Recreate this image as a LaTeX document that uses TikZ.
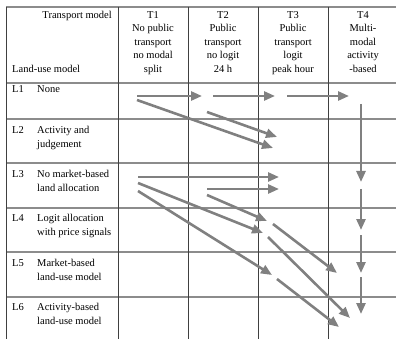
\documentclass[tikz,border=0pt]{standalone}
\usepackage{fontspec}
\setmainfont{Liberation Serif}
\usetikzlibrary{arrows.meta}

\begin{document}
\begin{tikzpicture}[x=1pt,y=-1pt,font=\fontsize{10.5}{13.6}\selectfont,
	hline/.style={draw=black!45,line width=1.2pt},
	vline/.style={draw=black!75,line width=0.6pt},
	flow/.style={color=black!50,line width=2.6pt,-{Triangle[length=11pt,width=9pt]}},
	lbl/.style={anchor=north west,inner sep=0pt,align=left}]
	\useasboundingbox (0,0) rectangle (396,339);
	
	% table rules
	\foreach \y in {7,83,119,163,208,252,297}
		\draw[hline] (6,\y) -- (396,\y);
	\foreach \x in {6,118,188,258,328}
		\draw[vline] (\x,7) -- (\x,339);
	
	% heading
	\node[anchor=north east,inner sep=0pt] (tmodel) at (112,11) {Transport model};
	\node[anchor=base west,inner sep=0pt] (lmodel) at (12,73) {Land-use model};
	\foreach \t [count=\n] in {{T1\\No public\\transport\\no modal\\split},{T2\\Public\\transport\\no logit\\24 h},{T3\\Public\\transport\\logit\\peak hour},{T4\\Multi-\\modal\\activity\\-based}}
		\node[align=center,anchor=north,inner sep=0pt] (T\n) at (83+\n*70,11) {\t};
	
	% land-use rows
	\foreach \t/\y [count=\n] in {None/85,{Activity and\\judgement}/126,{No market-based\\land allocation}/170,{Logit allocation\\with price signals}/214,{Market-based\\land-use model}/259,{Activity-based\\land-use model}/303}
	{
		\node[lbl] (L\n) at (12,\y) {L\n};
		\node[lbl] (D\n) at (37,\y) {\t};
	}
	
	% arrow ends
	\foreach \n/\xa/\ya/\xb/\yb in {1/137/96/202/96,2/213/96/275/96,3/287/96/349/96,
		4/361/104/361/182,5/361/189/361/230,6/361/235/361/273,7/361/277/361/314,
		8/137/100/273/148,9/207/112/277/137,10/138/177/279/177,11/207/189/279/189,
		12/138/183/263/233,13/207/195/267/221,14/138/191/272/275,
		15/273/224/337/273,16/268/237/350/318,17/277/279/339/327}
	{
		\coordinate (s\n) at (\xa,\ya);
		\coordinate (e\n) at (\xb,\yb);
	}
	
	\path[flow]
		(s1) edge (e1)
		(s2) edge (e2)
		(s3) edge (e3)
		(s4) edge (e4)
		(s5) edge (e5)
		(s6) edge (e6)
		(s7) edge (e7)
		(s8) edge (e8)
		(s9) edge (e9)
		(s10) edge (e10)
		(s11) edge (e11)
		(s12) edge (e12)
		(s13) edge (e13)
		(s14) edge (e14)
		(s15) edge (e15)
		(s16) edge (e16)
		(s17) edge (e17);
\end{tikzpicture}
\end{document}
